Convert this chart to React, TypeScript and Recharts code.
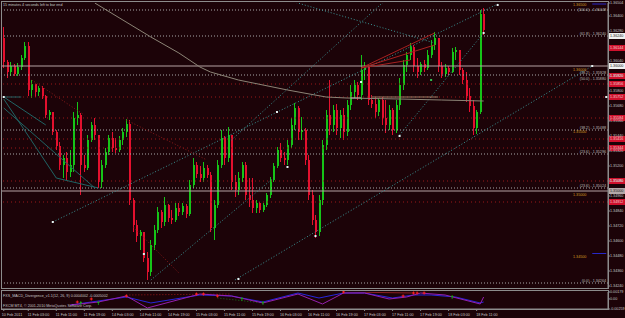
import React from 'react';
import { ComposedChart, Bar, Line, XAxis, YAxis, ReferenceLine, ReferenceDot } from 'recharts';

// ---------- data ----------
const firstOpen = 1.36224;
const highs = [
  1.36312, 1.36048, 1.36032, 1.36016, 1.36024, 1.36088, 1.36192, 1.36192, 1.35888, 1.35856,
  1.35840, 1.35840, 1.35768, 1.35648, 1.35632, 1.35488, 1.35392, 1.35288, 1.35312, 1.35328,
  1.35632, 1.35712, 1.35624, 1.35288, 1.35448, 1.35552, 1.35584, 1.35448, 1.35248, 1.35344,
  1.35448, 1.35472, 1.35424, 1.35440, 1.35504, 1.35576, 1.35568, 1.34944, 1.34768, 1.34688,
  1.34672, 1.34512, 1.34608, 1.34728, 1.34872, 1.34848, 1.34952, 1.34896, 1.34848, 1.34904,
  1.34904, 1.34904, 1.34896, 1.35088, 1.35264, 1.35232, 1.35200, 1.35232, 1.35208, 1.35152,
  1.34928, 1.35248, 1.35488, 1.35440, 1.35512, 1.35448, 1.35128, 1.35152, 1.35232, 1.35232,
  1.35104, 1.35104, 1.34928, 1.34912, 1.34904, 1.34984, 1.35112, 1.35224, 1.35352, 1.35384,
  1.35312, 1.35408, 1.35584, 1.35704, 1.35680, 1.35592, 1.35504, 1.35288, 1.35008, 1.34808,
  1.34968, 1.35408, 1.35648, 1.35888, 1.35688, 1.35696, 1.35648, 1.35664, 1.35728, 1.35848,
  1.35888, 1.35872, 1.36088, 1.36032, 1.36008, 1.35768, 1.35752, 1.35744, 1.35752, 1.35728,
  1.35688, 1.35664, 1.35728, 1.35904, 1.36048, 1.36112, 1.36184, 1.36168, 1.36064, 1.36032,
  1.36048, 1.36128, 1.36208, 1.36272, 1.36224, 1.36032, 1.36016, 1.36000, 1.36144, 1.36152,
  1.36128, 1.35984, 1.35952, 1.35824, 1.35728, 1.35648, 1.36448, 1.36464,
];
const lows = [
  1.35984, 1.35904, 1.35920, 1.35920, 1.35920, 1.35968, 1.36048, 1.35760, 1.35744, 1.35752,
  1.35760, 1.35736, 1.35584, 1.35568, 1.35448, 1.35328, 1.35168, 1.35104, 1.35088, 1.35112,
  1.35152, 1.35528, 1.34968, 1.35152, 1.35168, 1.35392, 1.35408, 1.35024, 1.35024, 1.35184,
  1.35288, 1.35312, 1.35304, 1.35312, 1.35368, 1.35432, 1.34888, 1.34672, 1.34592, 1.34528,
  1.34432, 1.34288, 1.34320, 1.34528, 1.34664, 1.34704, 1.34720, 1.34752, 1.34736, 1.34752,
  1.34800, 1.34808, 1.34784, 1.34800, 1.35024, 1.35104, 1.35072, 1.35072, 1.35104, 1.34672,
  1.34608, 1.34864, 1.35184, 1.35208, 1.35232, 1.35008, 1.34952, 1.34968, 1.35072, 1.34928,
  1.34872, 1.34824, 1.34824, 1.34824, 1.34832, 1.34872, 1.34944, 1.35072, 1.35184, 1.35232,
  1.35208, 1.35208, 1.35344, 1.35488, 1.35408, 1.35408, 1.35208, 1.34928, 1.34728, 1.34624,
  1.34640, 1.34888, 1.35328, 1.35448, 1.35472, 1.35448, 1.35424, 1.35408, 1.35440, 1.35648,
  1.35744, 1.35728, 1.35728, 1.35888, 1.35688, 1.35664, 1.35584, 1.35600, 1.35528, 1.35464,
  1.35488, 1.35448, 1.35464, 1.35648, 1.35808, 1.35952, 1.36048, 1.35952, 1.35904, 1.35928,
  1.35952, 1.35968, 1.36064, 1.36128, 1.35952, 1.35904, 1.35912, 1.35928, 1.35944, 1.36048,
  1.35928, 1.35856, 1.35712, 1.35632, 1.35448, 1.35456, 1.35616, 1.36248,
];
const closes = [
  1.36032, 1.35952, 1.36000, 1.35936, 1.35992, 1.36064, 1.36160, 1.35808, 1.35856, 1.35792,
  1.35824, 1.35760, 1.35608, 1.35632, 1.35472, 1.35360, 1.35208, 1.35264, 1.35152, 1.35208,
  1.35584, 1.35608, 1.35208, 1.35184, 1.35408, 1.35528, 1.35448, 1.35072, 1.35208, 1.35312,
  1.35424, 1.35344, 1.35328, 1.35408, 1.35472, 1.35536, 1.34928, 1.34728, 1.34640, 1.34672,
  1.34464, 1.34352, 1.34568, 1.34688, 1.34832, 1.34752, 1.34888, 1.34784, 1.34768, 1.34864,
  1.34832, 1.34880, 1.34816, 1.35048, 1.35208, 1.35136, 1.35104, 1.35184, 1.35128, 1.34704,
  1.34888, 1.35208, 1.35424, 1.35264, 1.35448, 1.35072, 1.35008, 1.35104, 1.35208, 1.34968,
  1.34928, 1.34864, 1.34904, 1.34848, 1.34888, 1.34968, 1.35088, 1.35200, 1.35328, 1.35264,
  1.35248, 1.35368, 1.35528, 1.35664, 1.35472, 1.35488, 1.35248, 1.34968, 1.34768, 1.34672,
  1.34928, 1.35368, 1.35608, 1.35528, 1.35648, 1.35504, 1.35608, 1.35472, 1.35688, 1.35792,
  1.35848, 1.35768, 1.35968, 1.35992, 1.35728, 1.35696, 1.35632, 1.35728, 1.35584, 1.35528,
  1.35648, 1.35488, 1.35688, 1.35848, 1.36008, 1.36088, 1.36152, 1.36000, 1.35952, 1.36016,
  1.35984, 1.36088, 1.36168, 1.36224, 1.36000, 1.35936, 1.35984, 1.35952, 1.36112, 1.36128,
  1.35968, 1.35888, 1.35760, 1.35680, 1.35504, 1.35632, 1.36416, 1.36288,
];

// long moving average (sparse readings)
const maIdx = [26, 42, 50, 56, 59, 67, 81, 92, 98, 113, 125, 137];
const maVal = [1.36504, 1.36232, 1.36104, 1.35992, 1.35952, 1.35888, 1.35808, 1.35752, 1.35744, 1.35736, 1.35728, 1.3572];

// MACD sub window (sparse readings)
const macdIdx = [19, 27, 35, 41, 56, 65, 74, 84, 91, 97, 103, 110, 115, 119, 126, 136, 137];
const macdVal = [-0.00156, -0.00079, 0.00076, -0.00233, 0.00127, 0.00076, -0.00104, 0.00127, -0.0013, 0.00153, 0.00153, -0.00001, 0.0005, 0.00153, 0.00102, -0.0013, 0.0005];
const sigIdx = [19, 35, 42, 56, 65, 74, 84, 90, 97, 103, 111, 117, 122, 129, 136, 137];
const sigVal = [-0.00156, 0.0005, -0.00104, 0.00102, 0.00076, -0.00079, 0.00153, 0.00024, 0.00153, 0.00153, 0.00024, 0.00102, 0.00102, 0.0005, -0.00104, -0.00079];
const crossIdx = [21, 25, 35, 55, 57, 61, 97, 114, 117, 118, 120];
const crossVal = [-0.00079, -0.00001, 0.00076, 0.00127, 0.00127, 0.00076, 0.00179, 0.00076, 0.00153, 0.00153, 0.00153];
const arrowIdx = [22, 27, 68, 74, 128];
const arrowVal = [-0.00104, -0.00104, -0.00001, -0.00104, 0.0005];

// time axis
const timeIdx = [0, 7, 15, 23, 31, 39, 47, 55, 63, 71, 79, 87, 95, 103, 111, 119, 127, 135];
const timeText = ['10 Feb 2011', '11 Feb 03:00', '11 Feb 11:00', '11 Feb 19:00', '14 Feb 03:00', '14 Feb 11:00', '14 Feb 19:00', '15 Feb 03:00', '15 Feb 11:00', '15 Feb 19:00', '16 Feb 03:00', '16 Feb 11:00', '16 Feb 19:00', '17 Feb 03:00', '17 Feb 11:00', '17 Feb 19:00', '18 Feb 03:00', '18 Feb 11:00'];

// price axis
const yTicks = [1.3424, 1.3436, 1.3448, 1.346, 1.3472, 1.3484, 1.3496, 1.3508, 1.352, 1.3532, 1.3544, 1.3556, 1.3568, 1.358, 1.3592, 1.3604, 1.3628, 1.364, 1.36504];
const macdTicks = [0.00179, 0, -0.00259];
const macdTickText = ['0.00179', '0.00', '-0.00259'];

// levels
const fibPrices = [1.36448, 1.3624, 1.35928, 1.3588, 1.35488, 1.35296, 1.35024, 1.34264];
const fibTexts = ['(100.0) - 1.36448', '(61.8) - 1.36240', '(38.2) - 1.35928', '(50.0) - 1.35880', '(38.2) - 1.35488', '(23.6) - 1.35296', '(23.6) - 1.35024', '(0.0) - 1.34264'];
const fibDrawn = [true, true, true, false, true, true, true, true];
const fibShift = [1.2, -0.6, -0.6, -0.6, -0.6, -0.6, -0.6, -0.6];
const solidLevels = [1.36, 1.35];
const roundLevels = [1.365, 1.36, 1.355, 1.35, 1.345];
const roundShift = [2.4, 4.6, 4.6, 4.6, 4.6];
const redLevels = [1.35856, 1.35752, 1.35584, 1.35416, 1.35344, 1.3508, 1.34912];
const redBoxes = [1.36144, 1.3592, 1.35856, 1.35752, 1.35584, 1.35416, 1.35344, 1.3508, 1.34912];
const whiteBoxes = [1.3624, 1.36];
const grayBoxes = [1.35];

// trend lines: [x1 index, y1 price, x2 index, y2 price]
const tealX1 = [66, 14, 42, 65, 81, 113];
const tealY1 = [1.34288, 1.34752, 1.34288, 1.35408, 1.36528, 1.35448];
const tealX2 = [168, 141, 77, 109, 123, 137];
const tealY2 = [1.36, 1.36496, 1.35104, 1.36528, 1.36184, 1.36264];
const fanX1 = [0, 0, 15, 0, 0];
const fanY1 = [1.35752, 1.35736, 1.35104, 1.35664, 1.35752];
const fanX2 = [12, 15, 27, 26, 5];
const fanY2 = [1.35528, 1.35104, 1.35024, 1.35024, 1.35752];
const redDotX1 = [35, 37, 8];
const redDotY1 = [1.35568, 1.34712, 1.35888];
const redDotX2 = [58, 50, 23];
const redDotY2 = [1.35248, 1.34344, 1.35608];
const redFanX1 = [102, 102, 102];
const redFanY1 = [1.35984, 1.35984, 1.35984];
const redFanX2 = [123, 123, 116];
const redFanY2 = [1.36264, 1.36168, 1.36048];
const markIdx = [0, 14, 40, 67, 78, 81, 89, 102, 113, 137, 141, 168, 172];
const markVal = [1.35752, 1.34752, 1.34496, 1.34296, 1.35632, 1.35192, 1.3464, 1.35872, 1.3544, 1.36264, 1.36488, 1.36, 1.35752];

// ---------- styling ----------
const BG = '#1c0308';
const BULL = '#16c418';
const BEAR = '#e4102e';
const GRAY = '#8c8c8c';
const TXT = '#c4c4c4';
const FONT = '"Liberation Sans", Arial, sans-serif';
const FS = 3.7;
const N = 138;
const SLOTS = 173;
const YMIN = 1.34224;
const YMAX = 1.36504;

const rows: any[] = Array.from({ length: SLOTS }, (_, i) => {
  const r: any = { i };
  if (i < N) {
    r.open = i === 0 ? firstOpen : closes[i - 1];
    r.high = highs[i];
    r.low = lows[i];
    r.close = closes[i];
    r.range = [lows[i], highs[i]];
  }
  return r;
});
maIdx.forEach((k, j) => { rows[k].ma = maVal[j]; });
macdIdx.forEach((k, j) => { rows[k].macd = macdVal[j]; });
sigIdx.forEach((k, j) => { rows[k].sig = sigVal[j]; });

const Candle = (p: any) => {
  const { x, y, width, height, payload } = p;
  if (!payload || payload.high == null) return null;
  const top = Math.min(y, y + height);
  const h = Math.abs(height);
  const span = payload.high - payload.low;
  const k = span > 0 ? h / span : 0;
  const yO = top + (payload.high - payload.open) * k;
  const yC = top + (payload.high - payload.close) * k;
  const bull = payload.close >= payload.open;
  const col = bull ? BULL : BEAR;
  const px = Math.floor(x + width / 2);
  const bTop = Math.min(yO, yC);
  const bH = Math.max(1, Math.abs(yC - yO));
  return (
    <g>
      <line x1={px + 0.5} x2={px + 0.5} y1={top} y2={top + Math.max(h, 1)} stroke={col} strokeWidth={1} />
      <rect x={px} y={bTop} width={2} height={bH} fill={col} />
    </g>
  );
};

const PriceTick = (p: any) => (
  <text x={p.x} y={p.y + 1.3} fontSize={FS} fill={TXT} fontFamily={FONT} textAnchor="start">
    {Number(p.payload.value).toFixed(5)}
  </text>
);

const MacdTick = (p: any) => {
  const j = macdTicks.indexOf(p.payload.value);
  return (
    <text x={p.x} y={p.y + 1.3} fontSize={FS} fill={TXT} fontFamily={FONT} textAnchor="start">
      {j >= 0 ? macdTickText[j] : ''}
    </text>
  );
};

const TimeTick = (p: any) => {
  const j = timeIdx.indexOf(p.payload.value);
  const dx = p.payload.value === 0 ? -2 : -0.5;
  return (
    <text x={p.x + dx} y={p.y + 4.5} fontSize={FS} fill={TXT} fontFamily={FONT} textAnchor="start">
      {j >= 0 ? timeText[j] : ''}
    </text>
  );
};

const fibLabel = (t: string, dy: number) => (p: any) => {
  const vb = p.viewBox || {};
  return (
    <text x={vb.x + vb.width - 2} y={vb.y + dy} fontSize={FS} fill="#bcbcbc" fontFamily={FONT} textAnchor="end">
      {t}
    </text>
  );
};

const roundLabel = (v: number, dy: number) => (p: any) => {
  const vb = p.viewBox || {};
  return (
    <text x={vb.x + vb.width - 35} y={vb.y + dy} fontSize={FS} fill="#d89a22" fontFamily={FONT}>
      {v.toFixed(5)}
    </text>
  );
};

const axisBox = (v: number, bg: string, fg: string) => (p: any) => {
  const vb = p.viewBox || {};
  const x0 = vb.x + vb.width + 1;
  return (
    <g>
      <rect x={x0} y={vb.y - 3} width={17} height={6} fill={bg} />
      <text x={x0 + 1} y={vb.y + 1.3} fontSize={FS} fill={fg} fontFamily={FONT}>
        {v.toFixed(5)}
      </text>
    </g>
  );
};

const Mark = (fill: string) => (p: any) => <rect x={p.cx - 1} y={p.cy - 1} width={2} height={2} fill={fill} />;
const Cross = (p: any) => (
  <g stroke="#ff2020" strokeWidth={1}>
    <line x1={p.cx - 1.5} x2={p.cx + 1.5} y1={p.cy} y2={p.cy} />
    <line x1={p.cx} x2={p.cx} y1={p.cy - 1.5} y2={p.cy + 1.5} />
  </g>
);
const Arrow = (p: any) => (
  <path d={`M${p.cx},${p.cy - 2} L${p.cx + 1.5},${p.cy} L${p.cx - 1.5},${p.cy} Z M${p.cx - 0.4},${p.cy} h0.8 v2 h-0.8 Z`} fill="#18a818" />
);

export default function App() {
  return (
    <div style={{ position: 'absolute', left: 0, top: 0, width: 625, height: 318, background: BG, overflow: 'hidden' }}>
      <div style={{ position: 'absolute', left: 0, top: 0 }}>
        <ComposedChart width={625} height={290} data={rows} margin={{ top: 3, right: 0, bottom: 2, left: 2 }}>
          <XAxis dataKey="i" type="category" scale="band" hide />
          <YAxis
            orientation="right"
            domain={[YMIN, YMAX]}
            ticks={yTicks}
            interval={0}
            width={17}
            tick={PriceTick}
            tickSize={2}
            tickMargin={0}
            axisLine={{ stroke: GRAY }}
            tickLine={{ stroke: GRAY }}
            allowDataOverflow
          />
          {fibPrices.map((v, j) => (
            <ReferenceLine key={'f' + j} y={v} stroke={fibDrawn[j] ? '#a8a8a8' : 'none'} strokeDasharray="1 2" label={fibLabel(fibTexts[j], fibShift[j])} />
          ))}
          {redLevels.map((v, j) => (
            <ReferenceLine key={'r' + j} y={v} stroke="#9a1818" strokeDasharray="1 3" />
          ))}
          {solidLevels.map((v, j) => (
            <ReferenceLine key={'s' + j} y={v} stroke="#b4a2a2" strokeWidth={1} />
          ))}
          {tealX1.map((x, j) => (
            <ReferenceLine key={'t' + j} segment={[{ x, y: tealY1[j] }, { x: tealX2[j], y: tealY2[j] }]} stroke="#3a9494" strokeDasharray="1 2" ifOverflow="hidden" />
          ))}
          {fanX1.map((x, j) => (
            <ReferenceLine key={'fa' + j} segment={[{ x, y: fanY1[j] }, { x: fanX2[j], y: fanY2[j] }]} stroke="#1f6464" ifOverflow="hidden" />
          ))}
          {redDotX1.map((x, j) => (
            <ReferenceLine key={'rd' + j} segment={[{ x, y: redDotY1[j] }, { x: redDotX2[j], y: redDotY2[j] }]} stroke="#8a1a1a" strokeDasharray="1 2" ifOverflow="hidden" />
          ))}
          {redFanX1.map((x, j) => (
            <ReferenceLine key={'rf' + j} segment={[{ x, y: redFanY1[j] }, { x: redFanX2[j], y: redFanY2[j] }]} stroke="#a82020" ifOverflow="hidden" />
          ))}
          <ReferenceLine segment={[{ x: 99, y: 1.35744 }, { x: 102, y: 1.35744 }]} stroke="#d8d8d8" ifOverflow="hidden" />
          <ReferenceLine segment={[{ x: 105, y: 1.35752 }, { x: 124, y: 1.35752 }]} stroke="#9a8068" ifOverflow="hidden" />
          <ReferenceLine segment={[{ x: 168, y: 1.345 }, { x: 172, y: 1.345 }]} stroke="#2828c8" ifOverflow="hidden" />
          <ReferenceLine segment={[{ x: 168, y: 1.36496 }, { x: 172, y: 1.36496 }]} stroke="#2828c8" ifOverflow="hidden" />
          <Line dataKey="ma" stroke="#8c8476" strokeWidth={1} dot={false} connectNulls isAnimationActive={false} />
          <Bar dataKey="range" shape={Candle} isAnimationActive={false} />
          {markIdx.map((x, j) => (
            <ReferenceDot key={'m' + j} x={x} y={markVal[j]} r={1} shape={Mark('#e6f2f2')} />
          ))}
          <ReferenceDot x={122} y={1.35888} r={1} shape={Mark('#30c050')} />
          {roundLevels.map((v, j) => (
            <ReferenceLine key={'o' + j} y={v} stroke="none" label={roundLabel(v, roundShift[j])} />
          ))}
          {redBoxes.map((v, j) => (
            <ReferenceLine key={'rb' + j} y={v} stroke="none" label={axisBox(v, '#d0102c', '#f0d0d0')} />
          ))}
          {whiteBoxes.map((v, j) => (
            <ReferenceLine key={'wb' + j} y={v} stroke="none" label={axisBox(v, '#f0f0f0', '#202020')} />
          ))}
          {grayBoxes.map((v, j) => (
            <ReferenceLine key={'gb' + j} y={v} stroke="none" label={axisBox(v, '#b4a8a8', '#202020')} />
          ))}
        </ComposedChart>
      </div>
      <div style={{ position: 'absolute', left: 0, top: 290 }}>
        <ComposedChart width={625} height={28} data={rows} margin={{ top: 2, right: 0, bottom: 0, left: 2 }}>
          <XAxis
            dataKey="i"
            type="category"
            scale="band"
            ticks={timeIdx}
            interval={0}
            height={9}
            tick={TimeTick}
            tickSize={2}
            tickMargin={0}
            axisLine={{ stroke: GRAY }}
            tickLine={{ stroke: GRAY }}
          />
          <YAxis
            orientation="right"
            domain={[-0.00259, 0.00179]}
            ticks={macdTicks}
            interval={0}
            width={17}
            tick={MacdTick}
            tickSize={2}
            tickMargin={0}
            axisLine={{ stroke: GRAY }}
            tickLine={{ stroke: GRAY }}
            allowDataOverflow
          />
          <ReferenceLine segment={[{ x: 35, y: 0.00102 }, { x: 65, y: 0.00127 }]} stroke="#9a1818" strokeDasharray="1 2" ifOverflow="hidden" />
          <ReferenceLine segment={[{ x: 97, y: 0.00179 }, { x: 117, y: 0.00153 }]} stroke="#8a2020" ifOverflow="hidden" />
          <ReferenceLine segment={[{ x: 61, y: 0.00024 }, { x: 74, y: -0.00104 }]} stroke="#1a6a1a" strokeDasharray="1 2" ifOverflow="hidden" />
          <Line dataKey="sig" stroke="#2626dc" strokeWidth={1} dot={false} connectNulls isAnimationActive={false} />
          <Line dataKey="macd" stroke="#9420b0" strokeWidth={1} dot={false} connectNulls isAnimationActive={false} />
          {crossIdx.map((x, j) => (
            <ReferenceDot key={'c' + j} x={x} y={crossVal[j]} r={1} shape={Cross} />
          ))}
          {arrowIdx.map((x, j) => (
            <ReferenceDot key={'a' + j} x={x} y={arrowVal[j]} r={1} shape={Arrow} />
          ))}
        </ComposedChart>
      </div>
      <svg width={625} height={318} style={{ position: 'absolute', left: 0, top: 0, pointerEvents: 'none' }}>
        <rect x={1.5} y={1.5} width={607} height={287} fill="none" stroke={GRAY} />
        <rect x={1.5} y={290.5} width={607} height={19} fill="none" stroke={GRAY} />
        <text x={3} y={6} fontSize={FS} fill={TXT} fontFamily={FONT}>15 minutes 4 seconds left to bar end</text>
        <text x={3} y={296.5} fontSize={FS} fill={TXT} fontFamily={FONT}>FXS_MACD_Divergence_v1.1(12, 26, 9) 0.0004002 -0.0005002</text>
        <text x={3} y={306.5} fontSize={FS} fill={TXT} fontFamily={FONT}>FXCM MT4, © 2001-2010 MetaQuotes Software Corp.</text>
      </svg>
    </div>
  );
}
